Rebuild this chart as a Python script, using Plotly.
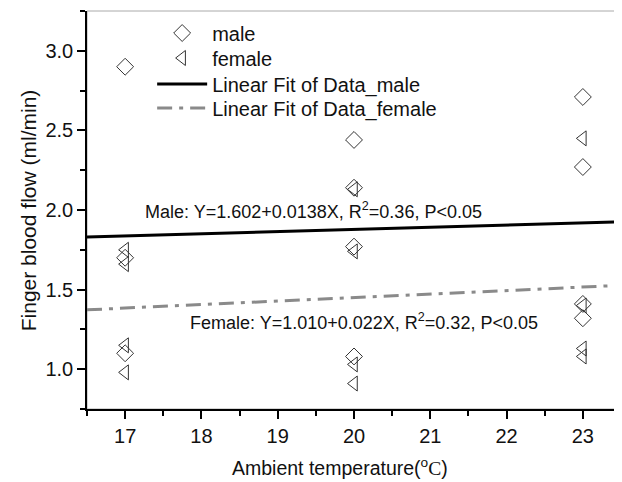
import plotly.graph_objects as go

# ---- data ----
male_x = [17, 17, 17, 20, 20, 20, 20, 23, 23, 23, 23]
male_y = [2.90, 1.70, 1.10, 2.44, 2.14, 1.77, 1.08, 2.71, 2.27, 1.41, 1.32]
female_x = [17, 17, 17, 17, 20, 20, 20, 20, 23, 23, 23, 23]
female_y = [1.75, 1.66, 1.15, 0.98, 2.13, 1.74, 1.03, 0.91, 2.45, 1.40, 1.13, 1.08]

# linear fit coefficients printed on the chart
male_fit = (1.602, 0.0138)
female_fit = (1.010, 0.022)
fit_x = [16.5, 23.5]

x_range = [16.5, 23.5]
y_range = [0.75, 3.25]
x_ticks = [17, 18, 19, 20, 21, 22, 23]
y_ticks = [1.0, 1.5, 2.0, 2.5, 3.0]

FONT = "Liberation Sans, Arial, sans-serif"

fig = go.Figure()
fig.add_trace(go.Scatter(
    x=male_x, y=male_y, mode="markers", name="male", legend="legend",
    marker=dict(symbol="diamond-open", size=13, color="#333333", line=dict(width=1, color="#333333")),
))
fig.add_trace(go.Scatter(
    x=female_x, y=female_y, mode="markers", name="female", legend="legend2",
    marker=dict(symbol="triangle-left-open", size=13, color="#333333", line=dict(width=1, color="#333333")),
))
fig.add_trace(go.Scatter(
    x=fit_x, y=[male_fit[0] + male_fit[1] * v for v in fit_x], mode="lines",
    name="Linear Fit of Data_male", legend="legend3", line=dict(color="black", width=3),
))
fig.add_trace(go.Scatter(
    x=fit_x, y=[female_fit[0] + female_fit[1] * v for v in fit_x], mode="lines",
    name="Linear Fit of Data_female", legend="legend4",
    line=dict(color="#8a8a8a", width=3, dash="15px,7px,4px,7px"),
))

fig.add_annotation(x=17.23, y=2.0, xref="x", yref="y", xanchor="left", yanchor="middle",
                   text="Male: Y=1.602+0.0138X, R<sup>2</sup>=0.36, P&lt;0.05", showarrow=False,
                   font=dict(family=FONT, size=18, color="#111111"))
fig.add_annotation(x=17.82, y=1.30, xref="x", yref="y", xanchor="left", yanchor="middle",
                   text="Female: Y=1.010+0.022X, R<sup>2</sup>=0.32, P&lt;0.05", showarrow=False,
                   font=dict(family=FONT, size=18, color="#111111"))

# axis titles
fig.add_annotation(x=0.474, y=-0.146, xref="paper", yref="paper", xanchor="center", yanchor="middle",
                   text="Ambient temperature(<sup>o</sup><span style='font-family:Liberation Serif,Times New Roman,serif'>C</span>)",
                   showarrow=False, font=dict(family=FONT, size=19.5, color="#111111"))
fig.add_annotation(x=-0.11, y=0.5, xref="paper", yref="paper", xanchor="center", yanchor="middle",
                   text="Finger blood flow (ml/min)", textangle=-90,
                   showarrow=False, font=dict(family=FONT, size=21, color="#111111"))

# gray frame (top / right)
fig.add_shape(type="rect", xref="paper", yref="paper", x0=0, x1=1, y0=0, y1=1,
              line=dict(color="#aaaaaa", width=1), layer="below")

def leg(yc):
    return dict(x=0.122, y=yc, xanchor="left", yanchor="middle", itemwidth=50,
                bgcolor="rgba(0,0,0,0)", font=dict(size=20, family=FONT, color="#111111"))

fig.update_layout(
    width=614, height=474,
    margin=dict(l=79, r=1, t=3, b=73, autoexpand=False),
    paper_bgcolor="white", plot_bgcolor="white",
    font=dict(family=FONT, size=20, color="#111111"),
    showlegend=True,
    legend=leg(1 - 22 / 398),
    legend2=leg(1 - 47 / 398),
    legend3=leg(1 - 73 / 398),
    legend4=leg(1 - 97 / 398),
    xaxis=dict(
        range=x_range, tickmode="array", tickvals=x_ticks, automargin=False,
        showgrid=False, zeroline=False,
        showline=True, linecolor="black", linewidth=1.5,
        ticks="outside", ticklen=8, tickwidth=1.5, tickcolor="black",
        tickfont=dict(size=20),
        minor=dict(dtick=0.5, tick0=16.5, ticks="outside", ticklen=5, tickwidth=1.5, tickcolor="black", showgrid=False),
    ),
    yaxis=dict(
        range=y_range, tickmode="array", tickvals=y_ticks, ticktext=[f"{v:.1f}" for v in y_ticks],
        automargin=False,
        showgrid=False, zeroline=False,
        showline=True, linecolor="black", linewidth=1.5,
        ticks="outside", ticklen=8, tickwidth=1.5, tickcolor="black",
        tickfont=dict(size=20),
        minor=dict(dtick=0.25, tick0=0.75, ticks="outside", ticklen=5, tickwidth=1.5, tickcolor="black", showgrid=False),
    ),
)

fig.write_html("out.html")
